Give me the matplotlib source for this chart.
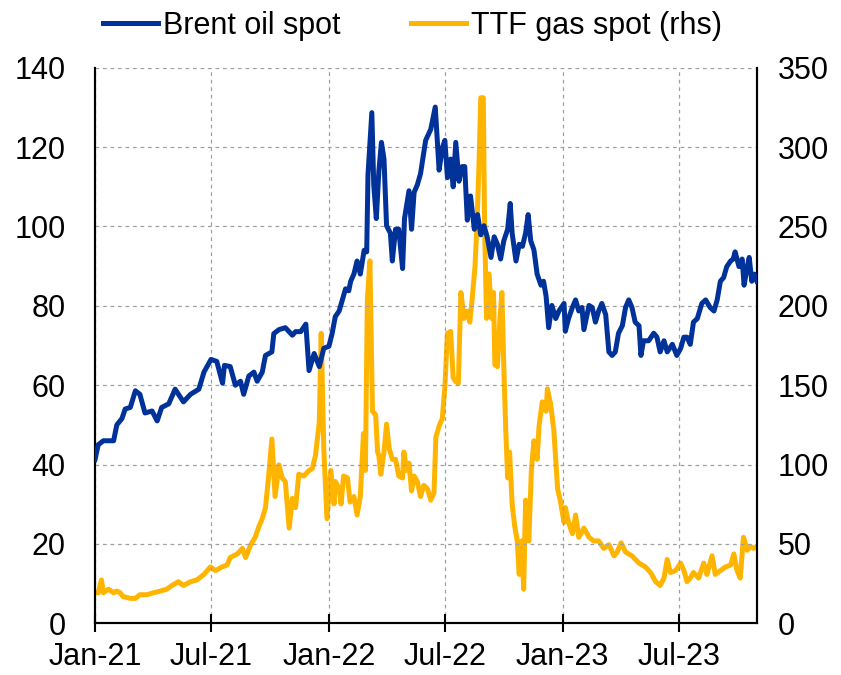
import numpy as np
import pandas as pd
import matplotlib
matplotlib.use("Agg")
import matplotlib.pyplot as plt

# days since 1 Jan 2021
brent_days = [0, 5, 13, 29, 34, 42, 47, 55, 63, 70, 78, 89, 97, 104, 115, 125, 138, 149,
              162, 170, 181, 190, 199, 202, 211, 219, 227, 232, 240, 248, 253, 261, 266,
              276, 279, 287, 297, 308, 313, 321, 329, 334, 342, 350, 357, 365,
              370, 375, 381, 386, 391, 396, 399, 404, 409, 414, 420, 424, 426, 432, 435,
              439, 443, 447, 451, 455, 461, 464, 469, 474, 480, 483, 490, 494, 498, 503,
              508, 516, 524, 531, 537, 542, 546, 550, 555, 559, 563, 568, 573, 577, 581,
              586, 592, 597, 602, 607, 612, 618, 623, 628, 633, 638, 644, 648, 651, 657,
              662, 667, 672, 676, 680, 685, 690, 696, 700, 704, 708, 713, 719, 724,
              732, 734, 739, 745, 750, 755, 760, 763, 771, 776, 781, 786, 791, 797, 802,
              807, 812, 817, 823, 828, 833, 838, 843, 849, 852, 856, 864, 872, 877, 882,
              888, 893, 901, 908, 914, 919, 924, 929, 934, 940, 947, 953, 960, 966, 971,
              976, 981, 986, 992, 996, 999, 1005, 1010, 1013, 1018, 1021, 1025, 1029, 1033]
brent = [41.3, 45, 46, 46, 50, 51.6, 54, 54.4, 58.6, 57.7, 53, 53.5, 51, 54.4, 55.3, 59,
         55.8, 57.7, 59, 63.3, 66.5, 66, 60.5, 65, 64.7, 60, 61, 57.7, 62.3, 63.3, 61, 63.3,
         67.5, 68.4, 73, 74, 74.5, 72.6, 73.5, 73.5, 75.4, 63.7, 68, 64.7, 69.3, 69.8,
         73, 77.3, 78.7, 81.5, 84.3, 83.8, 86.2, 88, 91.3, 88, 94, 93.6, 113, 128.7, 110.5,
         102, 114, 121.2, 117, 100.2, 98.3, 91.3, 99.3, 99.3, 89.4, 102, 109, 99.3, 108.6,
         110.5, 113.3, 121.7, 124.5, 130.1, 114.2, 119.8, 121.7, 112.3, 117, 110, 121.2,
         111.4, 115.1, 115.1, 101.6, 107.7, 99.3, 103, 97.9, 100.2, 97.4, 92.2, 97.4, 95.5,
         91.8, 96.4, 99.3, 105.8, 98.3, 91.3, 95.5, 95, 98.3, 103, 96.4, 94.1, 88, 85.2,
         86.2, 82.4, 74.5, 80.1, 76.8, 78.7,
         80.6, 73.6, 76.8, 79.6, 81.5, 78.7, 79.6, 74, 80.1, 79.6, 75.9, 78.7, 80.6, 77.8,
         68.4, 67.5, 68.4, 73.1, 75, 79.6, 81.5, 79.6, 75.9, 75, 67.5, 71.2, 71.2, 73.1,
         72.1, 68.4, 71.2, 68.4, 70.3, 67.5, 69.3, 72.1, 72.1, 70.3, 75.9, 76.8, 80.6,
         81.5, 79.6, 78.7, 81.5, 86.2, 87.1, 89.9, 91.3, 91.8, 93.6, 89.9, 91.8, 85.2,
         89.9, 92.2, 86.2, 88, 86.2]

ttf_days = [0, 5, 10, 13, 21, 29, 34, 39, 44, 55, 63, 70, 81, 91, 102, 112, 120, 130, 138,
            149, 159, 170, 180, 188, 198, 206, 211, 222, 230, 235, 243, 250, 256, 261, 266,
            271, 276, 281, 287, 292, 297, 303, 308, 313, 318, 326, 334, 339, 344, 350, 353,
            357, 362,
            368, 373, 375, 381, 384, 388, 394, 398, 404, 409, 414, 419, 422, 425, 429, 433,
            438, 441, 443, 446, 451, 455, 459, 464, 469, 474, 480, 482, 486, 490, 494, 498,
            503, 508, 513, 519, 524, 529, 532, 537, 542, 546, 550, 555, 559, 563, 567, 571,
            576, 581, 585, 589, 593, 596, 599, 602, 606, 608, 611, 615, 619, 622, 624, 628,
            632, 635, 638, 641, 644, 647, 651, 655, 659, 662, 666, 669, 672, 677, 681, 685,
            690, 693, 698, 704, 706, 711, 716, 722,
            726, 732, 734, 739, 745, 750, 755, 763, 771, 778, 786, 794, 802, 810, 815, 821,
            828, 838, 849, 859, 867, 875, 882, 888, 893, 898, 906, 914, 919, 924, 929, 934,
            942, 950, 955, 963, 968, 976, 984, 992, 997, 1002, 1007, 1012, 1018, 1023, 1028,
            1033]
ttf = [19.2, 19.2, 27.3, 19.2, 21.5, 19.2, 20.3, 19.2, 16.8, 15.7, 15.7, 18, 18, 19.2,
       20.3, 21.5, 23.8, 26.2, 23.8, 26.2, 27.3, 30.8, 35.5, 33.2, 35.5, 36.7, 41.4, 43.7,
       47.2, 41.4, 49.5, 54.2, 61.2, 65.9, 72.9, 92.8, 116.1, 79.9, 99.8, 91.6, 89.3, 60,
       78.7, 72.9, 93.9, 92.8, 96.3, 97.4, 105.6, 126.6, 182.7, 110, 65.9,
       96.3, 75.2, 89.3, 84.6, 75.2, 92.8, 91.6, 76.4, 79.9, 68.2, 79.9, 119.6, 96.3, 203.7,
       228.3, 133.6, 131.3, 107.9, 105.6, 93.9, 107.9, 125.5, 110.3, 103.3, 103.3, 92.8,
       91.6, 107.9, 96.3, 100.9, 83.4, 92.8, 89.3, 79.9, 86.9, 84.6, 77.6, 82.2, 117.3,
       124.3, 129, 148.8, 182.7, 183.9, 154.7, 152.3, 151.2, 208.4, 192.1, 196.7, 189.7,
       206.1, 224.8, 250.5, 285.5, 331.1, 331.1, 250.5, 192.1, 220.1, 192.1, 208.4, 162.9,
       161.7, 192.1, 208.4, 161.7, 122, 91.6, 107.9, 75.2, 61.2, 51.9, 30.8, 51.9, 21.5,
       77.6, 51.9, 96.3, 115, 103.3, 124.3, 139.5, 133.6, 147.7, 138.3, 122, 84.6,
       77.6, 63.6, 72.9, 63.6, 56.5, 68.2, 54.2, 60, 54.2, 51.9, 51.9, 47.2, 49.5, 42.5,
       44.9, 50.7, 44.9, 42.5, 37.9, 35.5, 32, 26.2, 23.8, 28.5, 40.2, 32, 33.2, 37.9, 33.2,
       26.2, 28.5, 32, 28.5, 37.9, 30.8, 42.5, 30.8, 33.2, 35.5, 36.7, 43.7, 33.2, 28.5,
       54.2, 46, 48.4, 47.2, 48.4]

x_ticks = ["2021-01-01", "2021-07-01", "2022-01-01", "2022-07-01", "2023-01-01", "2023-07-01"]
x_labels = ["Jan-21", "Jul-21", "Jan-22", "Jul-22", "Jan-23", "Jul-23"]

start = pd.Timestamp("2021-01-01")
brent_dates = start + pd.to_timedelta(brent_days, unit="D")
ttf_dates = start + pd.to_timedelta(ttf_days, unit="D")

plt.rcParams['font.family'] = ['Liberation Sans', 'DejaVu Sans']

fig = plt.figure(figsize=(8.41, 6.75), dpi=100)
ax = fig.add_axes([0.113, 0.0766, 0.787, 0.823])
ax2 = ax.twinx()

blue = "#003299"
yellow = "#FFB400"

l1, = ax.plot(brent_dates, brent, color=blue, lw=3.6, label="Brent oil spot", zorder=3)
l2, = ax2.plot(ttf_dates, ttf, color=yellow, lw=3.6, label="TTF gas spot (rhs)", zorder=2)

ax.set_ylim(0, 140)
ax.set_yticks(np.arange(0, 141, 20))
ax2.set_ylim(0, 350)
ax2.set_yticks(np.arange(0, 351, 50))
ax.set_xlim(pd.Timestamp("2021-01-01"), pd.Timestamp("2023-10-31"))
ax.set_xticks(pd.to_datetime(x_ticks))
ax.set_xticklabels(x_labels)

# brent drawn over the gas line
ax.set_zorder(ax2.get_zorder() + 1)
ax.patch.set_visible(False)

ax.grid(True, color="#a0a0a0", ls=(0, (3, 3)), lw=0.9)
ax.set_axisbelow(True)

for a in (ax, ax2):
    a.spines["top"].set_visible(False)
    for s in ("left", "right", "bottom"):
        a.spines[s].set_linewidth(1.5)
ax.tick_params(axis="y", length=0, labelsize=22, pad=21)
ax2.tick_params(axis="y", length=0, labelsize=22, pad=15)
ax.tick_params(axis="x", direction="inout", length=13, width=1.5, labelsize=22, pad=7)

fig.legend(handles=[l1, l2], loc="center left", bbox_to_anchor=(0.1225, 0.962), ncol=2,
           frameon=False, fontsize=22, handlelength=1.8, handletextpad=0.17,
           columnspacing=2.3, borderpad=0, borderaxespad=0)

fig.savefig("out.png", dpi=100)
